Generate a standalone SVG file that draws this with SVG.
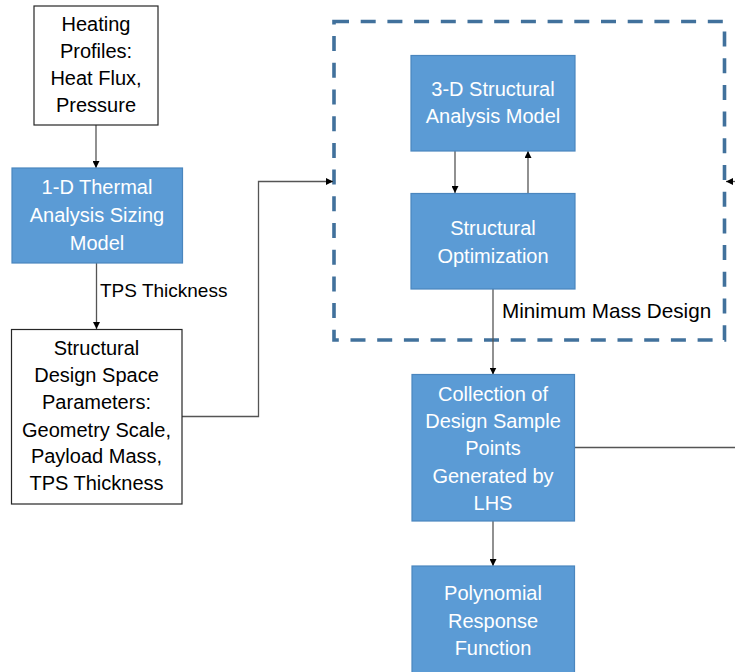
<svg xmlns="http://www.w3.org/2000/svg" width="735" height="672" viewBox="0 0 735 672">
<defs>
<marker id="ah" viewBox="0 0 10 10" refX="10" refY="5" markerWidth="7" markerHeight="7" markerUnits="userSpaceOnUse" orient="auto">
<path d="M0,0 L10,5 L0,10 z" fill="#000"/>
</marker>
<style>
.wbox{fill:#fff;stroke:#262626;stroke-width:1.2}
.bbox{fill:#5B9BD5;stroke:#4A86BE;stroke-width:1.2}
.t{font-family:"Liberation Sans",Arial,sans-serif;font-size:20px;text-anchor:middle}
.dk{fill:#000}
.wt{fill:#fff}
.lbl{font-family:"Liberation Sans",Arial,sans-serif;font-size:19px;fill:#000}
.c{fill:none;stroke:#555;stroke-width:1.3}
.ca{fill:none;stroke:#555;stroke-width:1.3;marker-end:url(#ah)}
</style>
</defs>
<rect width="735" height="672" fill="#fff"/>
<g id="loop-frame">
<rect x="334" y="21.5" width="390.5" height="318.5" fill="none" stroke="#41719C" stroke-width="3.6" stroke-dasharray="15 11.7"/>
</g>
<g id="connectors">
<line class="ca" x1="96" y1="125" x2="96" y2="168"/>
<line class="ca" x1="96.5" y1="263" x2="96.5" y2="329"/>
<polyline class="ca" points="182,416.5 258.5,416.5 258.5,181.5 333,181.5"/>
<line class="ca" x1="735" y1="181.5" x2="726" y2="181.5"/>
<line class="ca" x1="455" y1="151" x2="455" y2="193"/>
<line class="ca" x1="528" y1="193" x2="528" y2="151"/>
<line class="ca" x1="493" y1="289" x2="493" y2="374.5"/>
<line class="c" x1="574.5" y1="447.5" x2="735" y2="447.5" stroke-width="2" stroke="#7F7F7F"/>
<line class="ca" x1="493" y1="521" x2="493" y2="566"/>
</g>
<g id="heating-profiles">
<rect class="wbox" x="34" y="6" width="124" height="119"/>
<text class="t dk" x="96" y="31">Heating</text>
<text class="t dk" x="96" y="58">Profiles:</text>
<text class="t dk" x="96" y="85">Heat Flux,</text>
<text class="t dk" x="96" y="112">Pressure</text>
</g>
<g id="thermal-model">
<rect class="bbox" x="12" y="168" width="170.5" height="95"/>
<text class="t wt" x="97" y="194">1-D Thermal</text>
<text class="t wt" x="97" y="222">Analysis Sizing</text>
<text class="t wt" x="97" y="250">Model</text>
</g>
<g id="tps-label">
<text class="lbl" x="100" y="297">TPS Thickness</text>
</g>
<g id="design-space">
<rect class="wbox" x="11.5" y="329.5" width="170.5" height="174.5"/>
<text class="t dk" x="96.5" y="355">Structural</text>
<text class="t dk" x="96.5" y="382">Design Space</text>
<text class="t dk" x="96.5" y="409">Parameters:</text>
<text class="t dk" x="96.5" y="436.5">Geometry Scale,</text>
<text class="t dk" x="96.5" y="463">Payload Mass,</text>
<text class="t dk" x="96.5" y="490">TPS Thickness</text>
</g>
<g id="structural-model">
<rect class="bbox" x="411" y="55.5" width="164" height="95.5"/>
<text class="t wt" x="493" y="96">3-D Structural</text>
<text class="t wt" x="493" y="123">Analysis Model</text>
</g>
<g id="structural-optimization">
<rect class="bbox" x="411" y="193.5" width="164" height="95.5"/>
<text class="t wt" x="493" y="235">Structural</text>
<text class="t wt" x="493" y="263">Optimization</text>
</g>
<g id="min-mass-label">
<text class="lbl" x="502" y="318" style="font-size:20.7px">Minimum Mass Design</text>
</g>
<g id="sample-points">
<rect class="bbox" x="412" y="374.5" width="162.5" height="146.5"/>
<text class="t wt" x="493" y="400.5">Collection of</text>
<text class="t wt" x="493" y="428">Design Sample</text>
<text class="t wt" x="493" y="455">Points</text>
<text class="t wt" x="493" y="482.5">Generated by</text>
<text class="t wt" x="493" y="510">LHS</text>
</g>
<g id="response-function">
<rect class="bbox" x="412" y="566" width="162.5" height="110"/>
<text class="t wt" x="493" y="600">Polynomial</text>
<text class="t wt" x="493" y="627.5">Response</text>
<text class="t wt" x="493" y="655">Function</text>
</g>
</svg>
